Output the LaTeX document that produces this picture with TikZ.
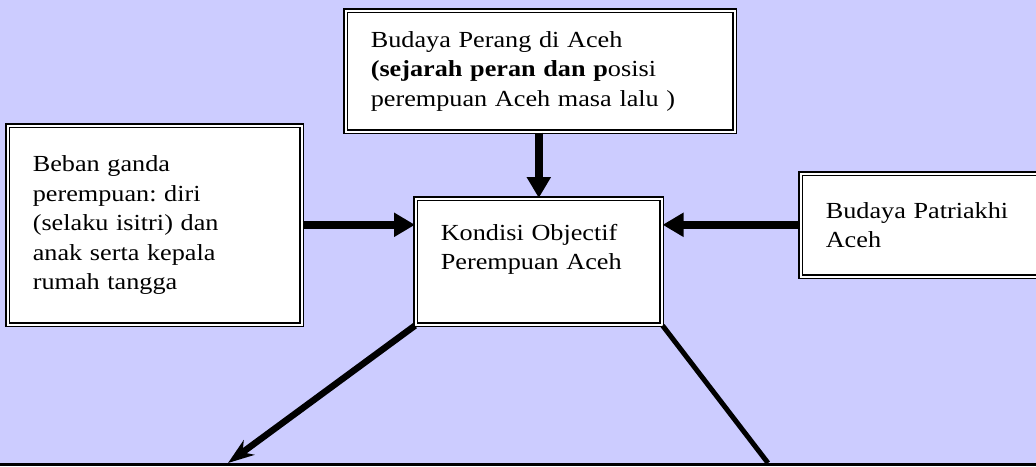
\documentclass[tikz,border=0pt]{standalone}
\usepackage{fontspec}
\setmainfont{Liberation Serif}[FakeStretch=1.14]
\frenchspacing
\usetikzlibrary{arrows.meta, positioning}
\definecolor{latar}{HTML}{CCCCFF}
\tikzset{
  kotak/.style = {draw, fill=white, double=white, double distance=1.5pt,
    line width=1.6pt, inner xsep=25pt, inner ysep=4pt, anchor=north west,
    align=left, font=\fontsize{23}{29.5}\selectfont},
}

\begin{document}
\begin{tikzpicture}[x=1pt, y=-1pt, ->,
    >={Triangle[length=21pt,width=23pt]}]
      \clip (0,0) rectangle (1036,466);
      \fill[latar] (0,0) rectangle (1036,466);

      \node[kotak, text width=339pt, minimum height=121pt] (perang) at (345,10)
      {Budaya Perang di Aceh\\ \textbf{(sejarah peran dan p}osisi\\
        perempuan Aceh masa lalu )};

      \node[kotak, text width=244pt, minimum height=199pt] (beban) at (7,125)
      {Beban ganda\\ perempuan: diri\\ (selaku isitri) dan\\
        anak serta kepala\\ rumah tangga};

      \node[kotak, text width=196pt, minimum height=126pt] (kondisi) at (415,198)
      {Kondisi Objectif\\ Perempuan Aceh\\ \mbox{}};

      \node[kotak, text width=200pt, minimum height=103pt] (patriakhi) at (800,173)
      {Budaya Patriakhi\\ Aceh};

      \node[draw, line width=3pt, minimum width=1100pt, minimum height=60pt,
        anchor=north] (bawah) at (518,463) {};

      \coordinate (jalur) at ([yshift=37pt]kondisi.west);
      \coordinate (ujungkiri) at (228,463);
      \coordinate (ujungkanan) at (768,463);

      \path[line width=8pt]
      (perang.south -| kondisi.north) edge (kondisi.north)
      (jalur -| beban.east) edge (jalur)
      (jalur -| patriakhi.west) edge (jalur -| kondisi.east)
      ;

      \path[line width=6.5pt]
      (kondisi.south west)
      edge[>={Stealth[length=26pt,width=18pt,inset=8pt]}]
      (ujungkiri)
      ;

      \path[line width=5pt]
      (kondisi.south east) edge[-] (ujungkanan)
      ;
    \end{tikzpicture}
\end{document}
